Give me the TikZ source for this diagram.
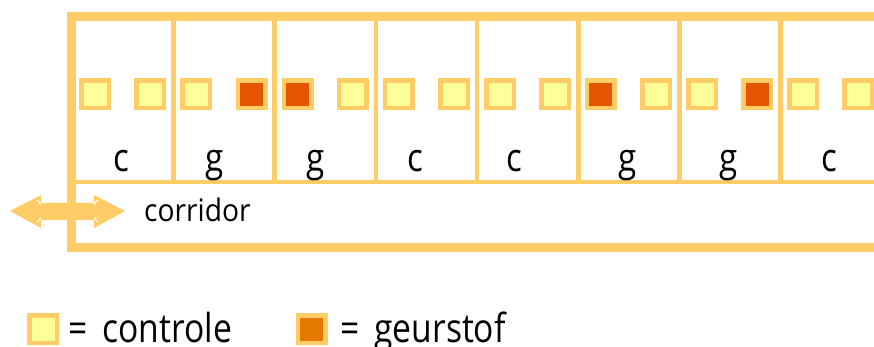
\documentclass[tikz,border=0pt]{standalone}
\usepackage{fontspec}
\setmainfont{Open Sans}
\newfontfamily\narrowa[FakeStretch=0.85]{Open Sans}
\newfontfamily\narrowb[FakeStretch=0.91]{Open Sans}
\newfontfamily\narrowc[FakeStretch=0.84]{Open Sans}
\definecolor{frameor}{HTML}{FFCC66}
\definecolor{ctrlfill}{HTML}{FFFF99}
\definecolor{geurfill}{HTML}{E65500}
\definecolor{legfill}{HTML}{E67A00}
\tikzset{
  x=1pt,y=-1pt,
  wall/.style={draw=frameor,line width=4.5pt},
  floorwall/.style={draw=frameor,line width=4pt},
  outerwall/.style={draw=frameor,line width=9pt},
  speck/.style={draw=white,line width=1.1pt},
  padbox/.style={rectangle,draw=frameor,line width=4.5pt,minimum size=27.5pt,inner sep=0pt,outer sep=0pt},
  ctrl/.style={padbox,fill=ctrlfill},
  geur/.style={padbox,fill=geurfill},
  leggeur/.style={padbox,fill=legfill},
  lab/.style={anchor=base,inner sep=0pt,font=\narrowa\fontsize{39}{44}\selectfont},
  legtext/.style={anchor=base west,inner sep=0pt,font=\narrowc\fontsize{40}{46}\selectfont},
  corr/.style={anchor=base west,inner sep=0pt,font=\narrowb\fontsize{31}{36}\selectfont},
}
\begin{document}
\begin{tikzpicture}
\useasboundingbox (0,0) rectangle (874,347);
\fill[white] (0,0) rectangle (874,347);
% walls
\foreach \xx in {173.3,274.5,376,477,578.3,679.3,780.3}
  \draw[wall] (\xx,17) -- (\xx,182);
\draw[floorwall] (72,182) -- (874,182);
\draw[outerwall] (874,16.5) -- (71.5,16.5) -- (71.5,247.5) -- (874,247.5);
% pads
\node[ctrl] (p1) at (95,94.5) {};
\node[ctrl] (p2) at (150,94.5) {};
\node[ctrl] (p3) at (196.3,94.5) {};
\node[geur] (p4) at (251.5,94.5) {};
\node[geur] (p5) at (297.5,94.5) {};
\node[ctrl] (p6) at (352.7,94.5) {};
\node[ctrl] (p7) at (398.7,94.5) {};
\node[ctrl] (p8) at (454,94.5) {};
\node[ctrl] (p9) at (500,94.5) {};
\node[ctrl] (p10) at (555.3,94.5) {};
\node[geur] (p11) at (600.5,94.5) {};
\node[ctrl] (p12) at (656,94.5) {};
\node[ctrl] (p13) at (702,94.5) {};
\node[geur] (p14) at (757,94.5) {};
\node[ctrl] (p15) at (803,94.5) {};
\node[ctrl] (p16) at (858,94.5) {};
% labels
\node[lab] (l1) at (121,172) {c};
\node[lab] (l2) at (214.8,172) {g};
\node[lab] (l3) at (315.8,172) {g};
\node[lab] (l4) at (415,172) {c};
\node[lab] (l5) at (514,172) {c};
\node[lab] (l6) at (627.8,172) {g};
\node[lab] (l7) at (728.8,172) {g};
\node[lab] (l8) at (829,172) {c};
% arrow
\fill[frameor] (10,211) -- (41,195) -- (41,203) -- (94,203) -- (94,195) -- (125,211) -- (94,228) -- (94,220) -- (41,220) -- (41,228) -- cycle;
\draw[speck] (37,200) -- (40,202.5) -- (40,205);
\draw[speck] (37,222) -- (40,219.5) -- (40,217);
\draw[speck] (98,200) -- (95,202.5) -- (95,205);
\draw[speck] (98,222) -- (95,219.5) -- (95,217);
\node[corr] (corridor) at (144,222) {corridor};
% legend
\node[ctrl] (k1) at (43,329) {};
\node[legtext] (k1t) at (68,342) {=\hskip 15pt controle};
\node[leggeur] (k2) at (311.5,329) {};
\node[legtext] (k2t) at (340,342) {=\hskip 15pt geurstof};
\end{tikzpicture}
\end{document}
